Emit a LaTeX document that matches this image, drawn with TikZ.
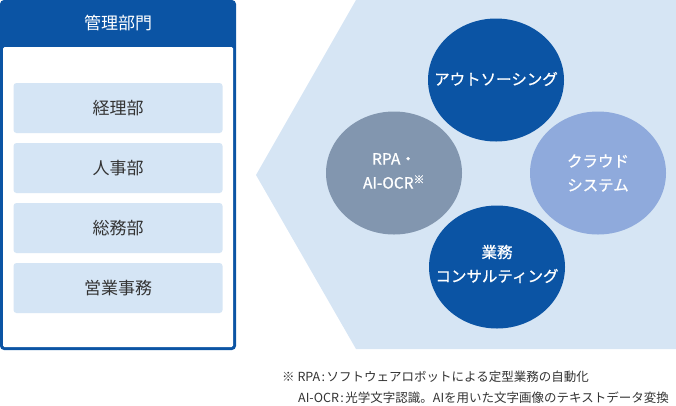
\documentclass[tikz,border=0pt]{standalone}
\usepackage{fontspec}
\setmainfont{Noto Sans CJK JP}
\newfontfamily\medfont[FakeBold=0.8]{Noto Sans CJK JP}
\definecolor{dblue}{HTML}{0B54A4}
\definecolor{gblue}{HTML}{8296AF}
\definecolor{pblue}{HTML}{8FAADC}
\definecolor{bgblue}{HTML}{D6E5F4}
\definecolor{rowfill}{HTML}{D5E5F5}
\definecolor{txt}{HTML}{333333}
\newcommand{\ncolon}{\hspace{0.12em}:\hspace{0.12em}}
\begin{document}
\begin{tikzpicture}[x=1pt,y=-1pt,
  rowbox/.style={draw=none,fill=rowfill,rounded corners=3pt,minimum width=209pt,minimum height=50pt,inner sep=0pt,text=txt,font=\fontsize{17}{17}\selectfont},
  bubbletext/.style={inner sep=0pt,text=white,align=center,font=\medfont\fontsize{15.5}{24}\selectfont},
  note/.style={anchor=west,inner sep=0pt,text=txt,font=\fontsize{12.5}{14}\selectfont}]
\useasboundingbox (0,0) rectangle (676,405);
% chevron background
\fill[bgblue] (356,0) -- (676,0) -- (676,349) -- (356,349) -- (256,175) -- cycle;
% left panel
\fill[dblue,rounded corners=4pt] (0,0) rectangle (236,350);
\fill[white,rounded corners=1.5pt] (3,47) rectangle (233,347);
\node[text=white,font=\fontsize{17}{17}\selectfont,inner sep=0pt] (hdr) at (118,23) {管理部門};
\node[rowbox] (r1) at (118,108) {経理部};
\node[rowbox] (r2) at (118,168) {人事部};
\node[rowbox] (r3) at (118,228) {総務部};
\node[rowbox] (r4) at (118,288) {営業事務};
% bubbles
\fill[dblue] (496,80) ellipse [x radius=68, y radius=61.5];
\fill[gblue] (394,173) ellipse [x radius=68, y radius=61.5];
\fill[pblue] (598,173) ellipse [x radius=68, y radius=61.5];
\fill[dblue] (497,267) ellipse [x radius=68, y radius=61.5];
\node[bubbletext] (c1) at (496,79) {アウトソーシング};
\node[bubbletext] (c2) at (394,171) {RPA・\\AI-OCR\textsuperscript{※}};
\node[bubbletext] (c3) at (598,173) {クラウド\\システム};
\node[bubbletext] (c4) at (497,264) {業務\\コンサルティング};
% footnote
\node[note] (n1) at (282,377) {※ RPA\ncolon ソフトウェアロボットによる定型業務の自動化};
\node[note] (n2) at (298,398) {AI-OCR\ncolon 光学文字認識。AIを用いた文字画像のテキストデータ変換};
\end{tikzpicture}
\end{document}
